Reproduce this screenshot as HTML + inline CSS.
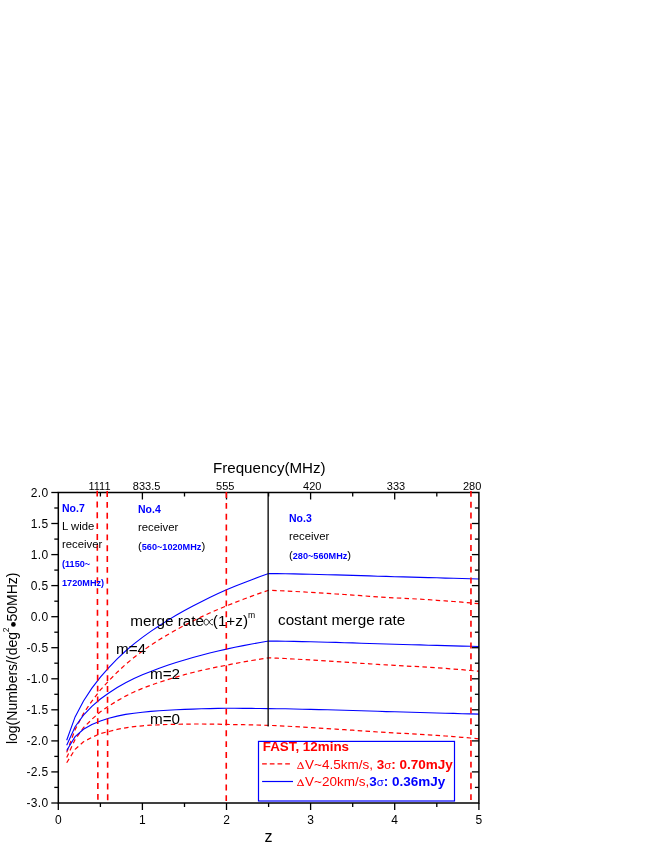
<!DOCTYPE html>
<html><head><meta charset="utf-8"><title>chart</title>
<style>
html,body{margin:0;padding:0;background:#fff;}
svg{display:block;font-family:"Liberation Sans",sans-serif;will-change:transform;}
</style></head><body>
<svg width="654" height="846" viewBox="0 0 654 846">
<rect width="654" height="846" fill="#fff"/>
<g>
<path d="M66.7,762.7 L75.1,749.3 L83.5,741.8 L91.9,737.4 L100.4,733.6 L108.8,731.5 L117.2,729.4 L125.6,727.8 L134.0,726.6 L142.4,725.8 L150.8,725.2 L159.2,724.8 L167.6,724.5 L176.1,724.3 L184.5,724.1 L192.9,724.0 L201.3,724.0 L209.7,724.1 L218.1,724.2 L226.5,724.4 L234.9,724.6 L243.3,724.7 L251.8,724.9 L260.2,725.1 L268.6,725.4 L277.0,725.7 L285.4,726.1 L293.8,726.6 L302.2,727.0 L310.6,727.6 L319.0,728.1 L327.5,728.6 L335.9,729.1 L344.3,729.7 L352.7,730.2 L361.1,730.8 L369.5,731.4 L377.9,732.0 L386.3,732.5 L394.7,733.0 L403.2,733.4 L411.6,733.8 L420.0,734.3 L428.4,734.8 L436.8,735.4 L445.2,736.0 L453.6,736.6 L462.0,737.3 L470.4,738.0 L478.9,738.8" fill="none" stroke="#ff0000" stroke-width="1.2" stroke-dasharray="4.5,3.3"/>
<path d="M66.7,757.5 L75.1,739.5 L83.5,727.7 L91.9,719.3 L100.4,711.7 L108.8,706.1 L117.2,700.8 L125.6,696.1 L134.0,692.0 L142.4,688.4 L150.8,685.2 L159.2,682.3 L167.6,679.6 L176.1,677.1 L184.5,674.7 L192.9,672.5 L201.3,670.4 L209.7,668.6 L218.1,666.8 L226.5,665.2 L234.9,663.5 L243.3,662.0 L251.8,660.5 L260.2,659.1 L268.6,657.8 L277.0,658.2 L285.4,658.5 L293.8,659.0 L302.2,659.5 L310.6,660.0 L319.0,660.5 L327.5,661.0 L335.9,661.5 L344.3,662.1 L352.7,662.7 L361.1,663.3 L369.5,663.8 L377.9,664.4 L386.3,664.9 L394.7,665.4 L403.2,665.9 L411.6,666.3 L420.0,666.7 L428.4,667.3 L436.8,667.8 L445.2,668.4 L453.6,669.1 L462.0,669.7 L470.4,670.5 L478.9,671.2" fill="none" stroke="#ff0000" stroke-width="1.2" stroke-dasharray="4.5,3.3"/>
<path d="M66.7,752.4 L75.1,729.6 L83.5,713.5 L91.9,701.1 L100.4,689.9 L108.8,680.8 L117.2,672.2 L125.6,664.4 L134.0,657.4 L142.4,651.0 L150.8,645.2 L159.2,639.7 L167.6,634.7 L176.1,629.9 L184.5,625.3 L192.9,621.0 L201.3,616.9 L209.7,613.0 L218.1,609.4 L226.5,605.9 L234.9,602.5 L243.3,599.3 L251.8,596.1 L260.2,593.1 L268.6,590.3 L277.0,590.6 L285.4,591.0 L293.8,591.4 L302.2,591.9 L310.6,592.4 L319.0,592.9 L327.5,593.4 L335.9,594.0 L344.3,594.5 L352.7,595.1 L361.1,595.7 L369.5,596.3 L377.9,596.8 L386.3,597.4 L394.7,597.9 L403.2,598.3 L411.6,598.7 L420.0,599.2 L428.4,599.7 L436.8,600.3 L445.2,600.9 L453.6,601.5 L462.0,602.2 L470.4,602.9 L478.9,603.7" fill="none" stroke="#ff0000" stroke-width="1.2" stroke-dasharray="4.5,3.3"/>
<path d="M66.7,750.5 L75.1,736.6 L83.5,729.3 L91.9,724.4 L100.4,720.9 L108.8,718.3 L117.2,716.1 L125.6,714.4 L134.0,713.2 L142.4,712.2 L150.8,711.4 L159.2,710.7 L167.6,710.2 L176.1,709.8 L184.5,709.4 L192.9,709.1 L201.3,708.8 L209.7,708.6 L218.1,708.4 L226.5,708.3 L234.9,708.3 L243.3,708.4 L251.8,708.4 L260.2,708.5 L268.6,708.6 L277.0,708.7 L285.4,708.8 L293.8,709.0 L302.2,709.2 L310.6,709.4 L319.0,709.6 L327.5,709.8 L335.9,710.0 L344.3,710.3 L352.7,710.5 L361.1,710.8 L369.5,711.0 L377.9,711.3 L386.3,711.6 L394.7,711.8 L403.2,712.0 L411.6,712.3 L420.0,712.5 L428.4,712.7 L436.8,713.0 L445.2,713.2 L453.6,713.4 L462.0,713.7 L470.4,713.9 L478.9,714.1" fill="none" stroke="#0000ff" stroke-width="1.1"/>
<path d="M66.7,745.3 L75.1,726.7 L83.5,715.2 L91.9,706.3 L100.4,699.0 L108.8,693.0 L117.2,687.5 L125.6,682.7 L134.0,678.5 L142.4,674.8 L150.8,671.4 L159.2,668.2 L167.6,665.3 L176.1,662.6 L184.5,660.0 L192.9,657.5 L201.3,655.2 L209.7,653.0 L218.1,651.0 L226.5,649.1 L234.9,647.3 L243.3,645.6 L251.8,644.0 L260.2,642.5 L268.6,641.0 L277.0,641.1 L285.4,641.3 L293.8,641.4 L302.2,641.6 L310.6,641.8 L319.0,642.0 L327.5,642.2 L335.9,642.4 L344.3,642.7 L352.7,642.9 L361.1,643.2 L369.5,643.5 L377.9,643.7 L386.3,644.0 L394.7,644.2 L403.2,644.5 L411.6,644.7 L420.0,644.9 L428.4,645.2 L436.8,645.4 L445.2,645.6 L453.6,645.9 L462.0,646.1 L470.4,646.3 L478.9,646.5" fill="none" stroke="#0000ff" stroke-width="1.1"/>
<path d="M66.7,740.2 L75.1,716.9 L83.5,701.0 L91.9,688.1 L100.4,677.2 L108.8,667.6 L117.2,658.9 L125.6,651.0 L134.0,643.9 L142.4,637.4 L150.8,631.4 L159.2,625.7 L167.6,620.4 L176.1,615.3 L184.5,610.6 L192.9,606.0 L201.3,601.7 L209.7,597.5 L218.1,593.6 L226.5,589.8 L234.9,586.3 L243.3,582.9 L251.8,579.7 L260.2,576.5 L268.6,573.5 L277.0,573.6 L285.4,573.7 L293.8,573.9 L302.2,574.1 L310.6,574.3 L319.0,574.5 L327.5,574.7 L335.9,574.9 L344.3,575.1 L352.7,575.4 L361.1,575.6 L369.5,575.9 L377.9,576.2 L386.3,576.4 L394.7,576.7 L403.2,576.9 L411.6,577.1 L420.0,577.4 L428.4,577.6 L436.8,577.8 L445.2,578.1 L453.6,578.3 L462.0,578.5 L470.4,578.8 L478.9,579.0" fill="none" stroke="#0000ff" stroke-width="1.1"/>
</g>
<line x1="268.15" y1="492.5" x2="268.15" y2="726.6" stroke="#111" stroke-width="1.4"/>
<rect x="58.3" y="492.5" width="420.6" height="310.5" fill="none" stroke="#000" stroke-width="1.5"/>
<g stroke="#000" stroke-width="1.3">
<line x1="51.3" y1="492.5" x2="58.3" y2="492.5"/>
<line x1="54.3" y1="508.0" x2="58.3" y2="508.0"/>
<line x1="474.9" y1="508.0" x2="478.9" y2="508.0"/>
<line x1="51.3" y1="523.5" x2="58.3" y2="523.5"/>
<line x1="471.9" y1="523.5" x2="478.9" y2="523.5"/>
<line x1="54.3" y1="539.1" x2="58.3" y2="539.1"/>
<line x1="474.9" y1="539.1" x2="478.9" y2="539.1"/>
<line x1="51.3" y1="554.6" x2="58.3" y2="554.6"/>
<line x1="471.9" y1="554.6" x2="478.9" y2="554.6"/>
<line x1="54.3" y1="570.1" x2="58.3" y2="570.1"/>
<line x1="474.9" y1="570.1" x2="478.9" y2="570.1"/>
<line x1="51.3" y1="585.6" x2="58.3" y2="585.6"/>
<line x1="471.9" y1="585.6" x2="478.9" y2="585.6"/>
<line x1="54.3" y1="601.2" x2="58.3" y2="601.2"/>
<line x1="474.9" y1="601.2" x2="478.9" y2="601.2"/>
<line x1="51.3" y1="616.7" x2="58.3" y2="616.7"/>
<line x1="471.9" y1="616.7" x2="478.9" y2="616.7"/>
<line x1="54.3" y1="632.2" x2="58.3" y2="632.2"/>
<line x1="474.9" y1="632.2" x2="478.9" y2="632.2"/>
<line x1="51.3" y1="647.7" x2="58.3" y2="647.7"/>
<line x1="471.9" y1="647.7" x2="478.9" y2="647.7"/>
<line x1="54.3" y1="663.2" x2="58.3" y2="663.2"/>
<line x1="474.9" y1="663.2" x2="478.9" y2="663.2"/>
<line x1="51.3" y1="678.8" x2="58.3" y2="678.8"/>
<line x1="471.9" y1="678.8" x2="478.9" y2="678.8"/>
<line x1="54.3" y1="694.3" x2="58.3" y2="694.3"/>
<line x1="474.9" y1="694.3" x2="478.9" y2="694.3"/>
<line x1="51.3" y1="709.8" x2="58.3" y2="709.8"/>
<line x1="471.9" y1="709.8" x2="478.9" y2="709.8"/>
<line x1="54.3" y1="725.3" x2="58.3" y2="725.3"/>
<line x1="474.9" y1="725.3" x2="478.9" y2="725.3"/>
<line x1="51.3" y1="740.9" x2="58.3" y2="740.9"/>
<line x1="471.9" y1="740.9" x2="478.9" y2="740.9"/>
<line x1="54.3" y1="756.4" x2="58.3" y2="756.4"/>
<line x1="474.9" y1="756.4" x2="478.9" y2="756.4"/>
<line x1="51.3" y1="771.9" x2="58.3" y2="771.9"/>
<line x1="471.9" y1="771.9" x2="478.9" y2="771.9"/>
<line x1="54.3" y1="787.4" x2="58.3" y2="787.4"/>
<line x1="474.9" y1="787.4" x2="478.9" y2="787.4"/>
<line x1="51.3" y1="803.0" x2="58.3" y2="803.0"/>
<line x1="58.3" y1="803.0" x2="58.3" y2="810.0"/>
<line x1="100.4" y1="803.0" x2="100.4" y2="807.0"/>
<line x1="100.4" y1="492.5" x2="100.4" y2="496.5"/>
<line x1="142.4" y1="803.0" x2="142.4" y2="810.0"/>
<line x1="142.4" y1="492.5" x2="142.4" y2="499.5"/>
<line x1="184.5" y1="803.0" x2="184.5" y2="807.0"/>
<line x1="184.5" y1="492.5" x2="184.5" y2="496.5"/>
<line x1="226.5" y1="803.0" x2="226.5" y2="810.0"/>
<line x1="226.5" y1="492.5" x2="226.5" y2="499.5"/>
<line x1="268.6" y1="803.0" x2="268.6" y2="807.0"/>
<line x1="268.6" y1="492.5" x2="268.6" y2="496.5"/>
<line x1="310.6" y1="803.0" x2="310.6" y2="810.0"/>
<line x1="310.6" y1="492.5" x2="310.6" y2="499.5"/>
<line x1="352.7" y1="803.0" x2="352.7" y2="807.0"/>
<line x1="352.7" y1="492.5" x2="352.7" y2="496.5"/>
<line x1="394.7" y1="803.0" x2="394.7" y2="810.0"/>
<line x1="394.7" y1="492.5" x2="394.7" y2="499.5"/>
<line x1="436.8" y1="803.0" x2="436.8" y2="807.0"/>
<line x1="436.8" y1="492.5" x2="436.8" y2="496.5"/>
<line x1="478.9" y1="803.0" x2="478.9" y2="810.0"/>
</g>
<g>
<line x1="97.2" y1="490.7" x2="97.9" y2="800.5" stroke="#ff0000" stroke-width="1.6" stroke-dasharray="5.9,4.93"/>
<line x1="107.2" y1="491.1" x2="107.7" y2="800.5" stroke="#ff0000" stroke-width="1.6" stroke-dasharray="5.9,4.93"/>
<line x1="226.35" y1="492.1" x2="226.25" y2="801.0" stroke="#ff0000" stroke-width="1.6" stroke-dasharray="5.9,4.93"/>
<line x1="470.96" y1="490.9" x2="470.96" y2="800.0" stroke="#ff0000" stroke-width="1.6" stroke-dasharray="5.9,4.93"/>
</g>
<g font-size="12" fill="#000">
<text x="48.4" y="496.8" text-anchor="end" letter-spacing="0.3">2.0</text>
<text x="48.4" y="527.8" text-anchor="end" letter-spacing="0.3">1.5</text>
<text x="48.4" y="558.9" text-anchor="end" letter-spacing="0.3">1.0</text>
<text x="48.4" y="589.9" text-anchor="end" letter-spacing="0.3">0.5</text>
<text x="48.4" y="621.0" text-anchor="end" letter-spacing="0.3">0.0</text>
<text x="48.4" y="652.0" text-anchor="end" letter-spacing="0.3">-0.5</text>
<text x="48.4" y="683.1" text-anchor="end" letter-spacing="0.3">-1.0</text>
<text x="48.4" y="714.1" text-anchor="end" letter-spacing="0.3">-1.5</text>
<text x="48.4" y="745.2" text-anchor="end" letter-spacing="0.3">-2.0</text>
<text x="48.4" y="776.2" text-anchor="end" letter-spacing="0.3">-2.5</text>
<text x="48.4" y="807.2" text-anchor="end" letter-spacing="0.3">-3.0</text>
<text x="58.3" y="824.0" text-anchor="middle">0</text>
<text x="142.4" y="824.0" text-anchor="middle">1</text>
<text x="226.5" y="824.0" text-anchor="middle">2</text>
<text x="310.6" y="824.0" text-anchor="middle">3</text>
<text x="394.7" y="824.0" text-anchor="middle">4</text>
<text x="478.9" y="824.0" text-anchor="middle">5</text>
<text x="99.5" y="489.9" text-anchor="middle" font-size="11">1111</text>
<text x="146.6" y="489.9" text-anchor="middle" font-size="11">833.5</text>
<text x="225.3" y="489.9" text-anchor="middle" font-size="11">555</text>
<text x="312.3" y="489.9" text-anchor="middle" font-size="11">420</text>
<text x="396.0" y="489.9" text-anchor="middle" font-size="11">333</text>
<text x="472.1" y="489.9" text-anchor="middle" font-size="11">280</text>
</g>
<text x="269.3" y="473" font-size="15.15" text-anchor="middle">Frequency(MHz)</text>
<text x="268.6" y="841.6" font-size="16" text-anchor="middle">z</text>
<g font-size="14">
<text transform="translate(16.6,632.0) rotate(-90)" text-anchor="end">log(Numbers/(deg</text>
<text transform="translate(9.0,632.2) rotate(-90)" font-size="8.6">2</text>
<circle cx="13.4" cy="624.4" r="2.35" fill="#000"/>
<text transform="translate(16.6,621.6) rotate(-90)">50MHz)</text>
</g>

<g font-size="11.3">
<text x="62" y="511.5" fill="#0000ff" font-weight="bold" font-size="10.5">No.7</text>
<text x="62" y="529.8" fill="#000">L wide</text>
<text x="62" y="548.4" fill="#000">receiver</text>
<text x="62" y="567" fill="#0000ff" font-weight="bold" font-size="9.15">(1150~</text>
<text x="62" y="585.5" fill="#0000ff" font-weight="bold" font-size="9.15">1720MHz)</text>

<text x="138" y="512.5" fill="#0000ff" font-weight="bold" font-size="10.5">No.4</text>
<text x="138" y="530.8" fill="#000">receiver</text>
<text x="138" y="549.5" fill="#0000ff" font-weight="bold" font-size="9.15"><tspan font-weight="normal" font-size="11.3" fill="#000">(</tspan>560~1020MHz<tspan font-weight="normal" font-size="11.3" fill="#000">)</tspan></text>

<text x="289" y="521.5" fill="#0000ff" font-weight="bold" font-size="10.5">No.3</text>
<text x="289" y="539.8" fill="#000">receiver</text>
<text x="289" y="558.5" fill="#0000ff" font-weight="bold" font-size="9.15"><tspan font-weight="normal" font-size="11.3" fill="#000">(</tspan>280~560MHz<tspan font-weight="normal" font-size="11.3" fill="#000">)</tspan></text>
</g>

<g font-size="15.25" fill="#000">
<text x="130.3" y="626.2" font-size="15.25">merge rate</text>
<path d="M213,619.3 C211,619.3 210,620.8 209.2,622.1 C208.2,623.8 207.5,625.0 206.2,625.0 C204.7,625.0 204.0,623.6 204.0,622.1 C204.0,620.6 204.7,619.2 206.2,619.2 C207.5,619.2 208.2,620.4 209.2,622.1 C210,623.4 211,624.9 213,624.9" fill="none" stroke="#111" stroke-width="0.9"/>
<text x="212.8" y="626.1" font-size="15.25">(1+z)</text>
<text x="248" y="617.8" font-size="8.6">m</text>
<text x="278" y="625">costant merge rate</text>
<text x="116" y="654">m=4</text>
<text x="150" y="679">m=2</text>
<text x="150" y="724">m=0</text>
</g>

<rect x="258.5" y="741.4" width="196" height="59.6" fill="#fff" stroke="#0000ff" stroke-width="1.2"/>
<g font-size="13.5">
<text x="262.7" y="751.3" fill="#ff0000" font-weight="bold" font-size="13.4">FAST, 12mins</text>
<line x1="262.1" y1="763.9" x2="290.6" y2="763.9" stroke="#ff0000" stroke-width="1.2" stroke-dasharray="4.7,3"/>
<path d="M296.9,768.7 L300.25,761.9 L301.0,761.9 L304.2,768.7 Z M298.05,767.95 L302.55,767.95 L300.2,763.3 Z" fill="#ff0000" fill-rule="evenodd"/>
<text x="305" y="768.7" fill="#ff0000"><tspan>V~4.5km/s, </tspan><tspan font-weight="bold">3<tspan font-size="11.5" font-weight="normal">σ</tspan>: 0.70mJy</tspan></text>
<line x1="262.1" y1="781.5" x2="293.0" y2="781.5" stroke="#0000ff" stroke-width="1.2"/>
<path transform="translate(0,17.4)" d="M296.9,768.7 L300.25,761.9 L301.0,761.9 L304.2,768.7 Z M298.05,767.95 L302.55,767.95 L300.2,763.3 Z" fill="#ff0000" fill-rule="evenodd"/>
<text x="305" y="786.1" fill="#ff0000"><tspan>V~20km/s,</tspan><tspan font-weight="bold" fill="#0000ff">3<tspan font-size="11.5" font-weight="normal">σ</tspan>: 0.36mJy</tspan></text>
</g>
</svg>
</body></html>
